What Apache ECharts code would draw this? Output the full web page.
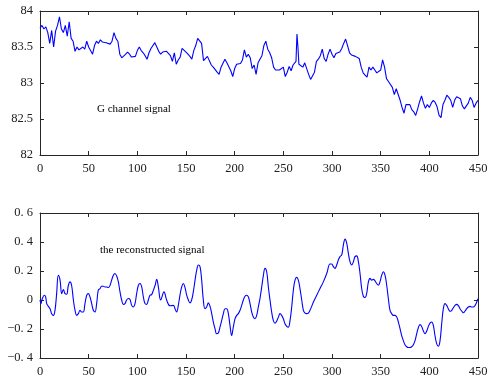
<!DOCTYPE html>
<html>
<head>
<meta charset="utf-8">
<script src="https://cdn.jsdelivr.net/npm/echarts@6/dist/echarts.min.js"></script>
<style>html,body{margin:0;padding:0;background:#fff}#c{width:493px;height:379px}</style>
</head>
<body>
<div id="c"></div>
<script>
// G channel signal: [sample, value]
const gChannel = [
[0,83.76],[2,83.80],[4,83.75],[6,83.78],[8,83.70],[10,83.55],[12,83.73],[14,83.50],[16,83.72],[18,83.80],
[20,83.92],[22,83.75],[24,83.70],[26,83.80],[28,83.65],[30,83.85],[32,83.62],[34,83.58],[36,83.44],[38,83.50],
[40,83.46],[42,83.48],[44,83.50],[46,83.47],[48,83.58],[50,83.50],[52,83.48],[54,83.40],[56,83.52],[58,83.58],
[60,83.55],[62,83.60],[64,83.57],[66,83.58],[68,83.56],[70,83.57],[72,83.54],[74,83.58],[76,83.70],[78,83.62],
[80,83.58],[82,83.40],[84,83.35],[86,83.37],[88,83.40],[90,83.43],[92,83.40],[94,83.36],[96,83.38],[98,83.37],
[100,83.45],[102,83.50],[104,83.45],[106,83.42],[108,83.38],[110,83.33],[112,83.42],[114,83.48],[116,83.46],[118,83.56],
[120,83.58],[122,83.44],[124,83.40],[126,83.43],[128,83.42],[130,83.44],[132,83.42],[134,83.38],[136,83.30],[138,83.42],
[140,83.26],[142,83.32],[144,83.36],[146,83.48],[148,83.47],[150,83.43],[152,83.40],[154,83.37],[156,83.33],[158,83.45],
[160,83.52],[162,83.62],[164,83.60],[166,83.55],[168,83.31],[170,83.32],[172,83.37],[174,83.35],[176,83.25],[178,83.22],
[180,83.20],[182,83.15],[184,83.12],[186,83.22],[188,83.20],[190,83.33],[192,83.28],[194,83.30],[196,83.17],[198,83.09],
[200,83.20],[202,83.26],[204,83.28],[206,83.27],[208,83.32],[210,83.46],[212,83.36],[214,83.40],[216,83.35],[218,83.20],
[220,83.25],[222,83.12],[224,83.28],[226,83.33],[228,83.38],[230,83.52],[232,83.58],[234,83.47],[236,83.42],[238,83.35],
[240,83.22],[242,83.18],[244,83.17],[246,83.18],[248,83.17],[250,83.22],[252,83.09],[254,83.15],[256,83.23],[258,83.17],
[260,83.25],[262,83.24],[263,83.30],[264,83.68],[265,83.50],[266,83.26],[268,83.25],[270,83.22],[272,83.28],[274,83.20],
[276,83.12],[278,83.05],[280,83.06],[282,83.15],[284,83.30],[286,83.33],[288,83.38],[290,83.47],[292,83.34],[294,83.30],
[296,83.40],[298,83.47],[300,83.40],[302,83.35],[304,83.41],[306,83.43],[308,83.43],[310,83.48],[312,83.55],[314,83.61],
[316,83.52],[318,83.42],[320,83.39],[322,83.40],[324,83.37],[326,83.38],[328,83.34],[330,83.22],[332,83.14],[334,83.11],
[336,83.08],[338,83.22],[340,83.18],[342,83.22],[344,83.18],[346,83.14],[348,83.12],[350,83.18],[352,83.32],[354,83.22],
[356,83.06],[358,83.02],[360,83.02],[362,82.94],[364,82.84],[366,82.92],[368,82.92],[370,82.76],[372,82.66],[374,82.58],
[376,82.70],[378,82.68],[380,82.70],[382,82.63],[384,82.60],[386,82.55],[388,82.64],[390,82.74],[392,82.82],[394,82.72],
[396,82.65],[398,82.70],[400,82.66],[402,82.72],[404,82.76],[406,82.73],[408,82.67],[410,82.55],[412,82.52],[414,82.70],
[416,82.76],[418,82.83],[420,82.80],[422,82.76],[424,82.66],[426,82.76],[428,82.81],[430,82.82],[432,82.78],[434,82.68],
[436,82.64],[438,82.66],[440,82.72],[442,82.80],[444,82.76],[446,82.66],[448,82.72],[450,82.76]
];

// reconstructed signal: [sample, value]
const reconstructed = [
[0,0.00],[1.0,-0.025],[2.4,0.01],[4.5,0.033],[5.8,0.021],[6.9,-0.025],[8.6,-0.044],[10.3,-0.06],[12.0,-0.095],[13.7,-0.106],
[15.4,-0.071],[17.1,0.044],[18.8,0.17],[20.6,0.137],[22.3,0.044],[24.0,0.072],[25.7,0.044],[27.4,0.04],[29.1,0.10],[30.8,0.125],
[32.5,0.10],[34.3,0.0],[36.0,-0.071],[37.7,-0.106],[39.4,-0.094],[41.1,-0.071],[42.8,-0.083],[44.5,-0.083],[46.2,-0.025],[48.0,0.033],
[49.7,0.044],[51.4,0.021],[53.1,-0.025],[54.8,-0.071],[56.5,-0.083],[58.2,-0.025],[59.9,0.068],[61.7,0.079],[63.4,0.095],[65.1,0.095],
[66.8,0.09],[68.5,0.09],[70.2,0.086],[71.9,0.10],[73.6,0.137],[75.4,0.17],[77.0,0.183],[78.8,0.165],[80.5,0.125],[82.2,0.056],
[83.9,0.0],[85.6,-0.03],[87.3,-0.025],[89.0,0.0],[90.8,0.01],[92.5,0.003],[94.2,-0.037],[95.9,-0.048],[97.6,-0.025],[99.3,0.044],
[101.0,0.10],[102.8,0.114],[104.5,0.09],[106.2,0.021],[107.9,-0.025],[109.6,-0.03],[111.3,0.0],[113.0,0.033],[114.7,0.037],[116.5,0.068],
[118.2,0.10],[119.9,0.142],[121.6,0.09],[124.0,0.0],[127.4,0.056],[130.1,0.0],[133.6,-0.04],[137.0,-0.037],[138.7,-0.06],[140.4,-0.083],
[142.1,-0.037],[143.8,0.033],[145.6,0.09],[147.3,0.114],[149.0,0.086],[150.7,0.033],[152.4,0.0],[154.1,-0.02],[155.8,0.0],[157.5,0.056],
[159.3,0.137],[161.0,0.206],[162.7,0.241],[164.4,0.23],[166.1,0.137],[167.8,0.0],[169.5,-0.06],[171.2,-0.048],[173.0,-0.02],[174.7,-0.044],
[176.4,-0.094],[178.1,-0.152],[179.8,-0.198],[181.5,-0.233],[183.2,-0.228],[184.9,-0.187],[186.7,-0.14],[188.4,-0.094],[190.1,-0.06],[191.8,-0.06],
[193.5,-0.094],[195.2,-0.175],[196.9,-0.245],[198.6,-0.187],[200.4,-0.129],[202.1,-0.106],[203.8,-0.094],[205.5,-0.071],[207.2,-0.037],[208.9,0.0],
[210.6,0.026],[212.3,0.033],[214.1,0.021],[215.8,-0.025],[217.5,-0.083],[219.2,-0.118],[220.9,-0.129],[222.6,-0.106],[224.3,-0.048],[226.0,0.01],
[227.8,0.09],[229.5,0.17],[231.2,0.218],[232.9,0.195],[234.6,0.09],[236.3,0.0],[238.0,-0.083],[239.7,-0.14],[241.5,-0.16],[243.2,-0.145],
[244.9,-0.118],[246.6,-0.094],[248.3,-0.106],[250.0,-0.129],[251.7,-0.164],[253.5,-0.182],[255.2,-0.187],[256.9,-0.14],[258.6,-0.048],[260.3,0.068],
[262.0,0.137],[263.7,0.156],[265.4,0.137],[267.1,0.079],[268.9,0.0],[270.6,-0.071],[272.3,-0.09],[274.0,-0.094],[275.7,-0.09],[277.4,-0.071],
[279.1,-0.044],[280.9,-0.014],[284.3,0.033],[287.7,0.079],[291.1,0.125],[294.6,0.183],[298.0,0.248],[299.7,0.248],[301.4,0.23],[303.1,0.218],
[304.8,0.241],[306.5,0.276],[308.2,0.299],[310.0,0.311],[311.7,0.38],[313.4,0.42],[315.1,0.392],[316.8,0.322],[318.5,0.264],[320.2,0.241],
[322.0,0.264],[323.6,0.299],[325.4,0.304],[327.1,0.264],[328.8,0.183],[330.5,0.079],[332.2,0.026],[334.0,0.017],[335.6,0.044],[337.4,0.125],
[339.1,0.149],[340.8,0.137],[342.5,0.142],[344.2,0.132],[345.9,0.114],[347.6,0.102],[349.3,0.125],[351.0,0.17],[352.8,0.195],[354.5,0.17],
[356.2,0.102],[357.9,0.01],[359.6,-0.071],[361.3,-0.094],[363.0,-0.106],[364.7,-0.106],[366.5,-0.118],[368.2,-0.152],[369.9,-0.198],[371.6,-0.245],
[373.3,-0.28],[375.0,-0.308],[376.7,-0.322],[378.4,-0.328],[380.2,-0.328],[381.9,-0.322],[383.6,-0.308],[385.3,-0.28],[387.0,-0.233],[388.7,-0.191],
[390.4,-0.17],[392.1,-0.182],[393.9,-0.214],[395.6,-0.233],[397.3,-0.214],[399.0,-0.182],[400.7,-0.159],[402.4,-0.152],[404.1,-0.175],[405.8,-0.245],
[407.6,-0.303],[409.3,-0.319],[411.0,-0.28],[412.7,-0.164],[414.4,-0.06],[416.1,-0.025],[417.8,-0.037],[419.5,-0.06],[421.3,-0.078],[423.0,-0.071],
[424.7,-0.053],[426.4,-0.037],[428.1,-0.03],[429.8,-0.039],[431.5,-0.06],[433.2,-0.076],[435.0,-0.088],[436.7,-0.076],[438.4,-0.06],[440.1,-0.048],
[441.8,-0.044],[443.5,-0.048],[445.2,-0.048],[447.0,-0.037],[448.7,-0.014],[450.0,0.01]
];

const xTicks = [0, 50, 100, 150, 200, 250, 300, 350, 400, 450];
const topYTicks = ['82', '82.5', '83', '83.5', '84'];
const bottomYTicks = ['\u22120. 4', '\u22120. 2', '0', '0. 2', '0. 4', '0. 6'];
const topLabel = 'G channel signal';
const bottomLabel = 'the reconstructed signal';

const FONT = '"Liberation Serif", "DejaVu Serif", serif';
const AX = '#262626';

function xAx(grid, pos, labels) {
  return {
    type: 'value', gridIndex: grid, position: pos, min: xTicks[0], max: xTicks[xTicks.length - 1], interval: 50,
    axisLine: { show: true, onZero: false, lineStyle: { color: AX, width: 1 } },
    axisTick: { show: true, inside: true, length: 4, lineStyle: { color: AX } },
    axisLabel: { show: labels, color: '#222', fontFamily: FONT, fontSize: 12.5, margin: 7 },
    splitLine: { show: false }
  };
}
function yAx(grid, pos, min, max, interval, labels, fmt) {
  return {
    type: 'value', gridIndex: grid, position: pos, min: min, max: max, interval: interval,
    axisLine: { show: true, onZero: false, lineStyle: { color: AX, width: 1 } },
    axisTick: { show: true, inside: true, length: 4, lineStyle: { color: AX } },
    axisLabel: { show: labels, color: '#222', fontFamily: FONT, fontSize: 12.5, margin: 7, formatter: fmt },
    splitLine: { show: false }
  };
}

const chart = echarts.init(document.getElementById('c'), null, { renderer: 'canvas' });
chart.setOption({
  animation: false,
  backgroundColor: '#fff',
  grid: [
    { left: 40, top: 11, width: 438, height: 144 },
    { left: 40, top: 213, width: 438, height: 145 }
  ],
  xAxis: [
    xAx(0, 'bottom', true), xAx(0, 'top', false),
    xAx(1, 'bottom', true), xAx(1, 'top', false)
  ],
  yAxis: [
    yAx(0, 'left', 82, 84, 0.5, true, v => topYTicks[Math.round((v - 82) / 0.5)]),
    yAx(0, 'right', 82, 84, 0.5, false),
    yAx(1, 'left', -0.4, 0.6, 0.2, true, v => bottomYTicks[Math.round((v + 0.4) / 0.2)]),
    yAx(1, 'right', -0.4, 0.6, 0.2, false)
  ],
  series: [
    { type: 'line', xAxisIndex: 0, yAxisIndex: 0, data: gChannel, showSymbol: false,
      lineStyle: { color: '#0000ff', width: 1.1 }, silent: true },
    { type: 'line', xAxisIndex: 2, yAxisIndex: 2, data: reconstructed, showSymbol: false, smooth: 0.4,
      lineStyle: { color: '#0000ff', width: 1.1 }, silent: true }
  ],
  graphic: [
    { type: 'text', left: 97, top: 104, style: { text: topLabel, font: '11px ' + FONT, fill: '#000' } },
    { type: 'text', left: 100, top: 245, style: { text: bottomLabel, font: '11px ' + FONT, fill: '#000' } }
  ]
});
</script>
</body>
</html>
